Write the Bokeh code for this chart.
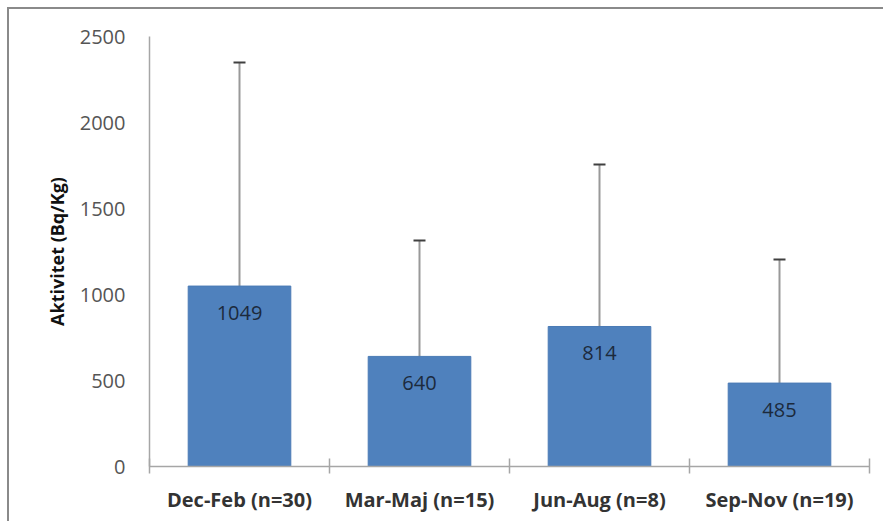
from bokeh.plotting import figure
from bokeh.models import Range1d, FixedTicker, Whisker, TeeHead, ColumnDataSource, LabelSet
from bokeh.core.properties import value
from bokeh.embed import file_html
from bokeh.resources import INLINE
import numpy as np

categories = ["Dec-Feb (n=30)", "Mar-Maj (n=15)", "Jun-Aug (n=8)", "Sep-Nov (n=19)"]
means = [1049, 640, 814, 485]
upper = [2349, 1314, 1756, 1203]
y_ticks = [0, 500, 1000, 1500, 2000, 2500]

pos = list(np.arange(len(categories)) + 0.5)
src = ColumnDataSource(dict(x=pos, top=means, upper=upper, lab=[str(v) for v in means]))

FONT = "Open Sans"

p = figure(width=883, height=521, output_backend="svg", toolbar_location=None,
           x_range=Range1d(0, len(categories)), y_range=Range1d(0, 2500),
           min_border_left=149, min_border_right=14, min_border_top=36, min_border_bottom=55,
           styles={"box-shadow": "inset 7px 7px 0 0 #ffffff, inset 9px 9px 0 0 #8a8a8a"})
p.outline_line_color = None
p.grid.visible = False
p.background_fill_color = "white"
p.border_fill_color = None

p.vbar(x="x", top="top", width=0.57, bottom=0, source=src,
       fill_color="#4F81BD", line_color="#4A7AB5", line_width=1)

w = Whisker(base="x", lower="top", upper="upper", source=src,
            line_color="#999999", line_width=2,
            upper_head=TeeHead(size=12, line_color="#404040", line_width=2),
            lower_head=None)
p.add_layout(w)

labels = LabelSet(x="x", y="top", text="lab", source=src, y_offset=-27,
                  text_align="center", text_baseline="middle",
                  text_font=value(FONT), text_font_size="20px", text_color="#1c2a3c")
p.add_layout(labels)

# y axis
ya = p.yaxis[0]
ya.ticker = FixedTicker(ticks=y_ticks)
ya.axis_line_color = "#a6a6a6"
ya.axis_line_width = 1.5
ya.major_tick_line_color = None
ya.major_tick_out = 0
ya.major_tick_in = 0
ya.minor_tick_line_color = None
ya.major_label_text_font = FONT
ya.major_label_text_font_size = "20px"
ya.major_label_text_color = "#555555"
ya.major_label_standoff = 24
ya.axis_label = "Aktivitet (Bq/Kg)"
ya.axis_label_text_font = FONT
ya.axis_label_text_font_size = "18px"
ya.axis_label_text_font_style = "bold"
ya.axis_label_text_color = "#111111"
ya.axis_label_standoff = 8

# x axis
xa = p.xaxis[0]
xa.ticker = FixedTicker(ticks=pos, minor_ticks=list(range(len(categories) + 1)))
xa.major_label_overrides = {float(x): c for x, c in zip(pos, categories)}
xa.axis_line_color = "#a6a6a6"
xa.axis_line_width = 1.5
xa.major_tick_line_color = None
xa.major_tick_out = 0
xa.major_tick_in = 0
xa.minor_tick_line_color = "#a6a6a6"
xa.minor_tick_line_width = 1.5
xa.minor_tick_in = 8
xa.minor_tick_out = 7
xa.major_label_text_font = FONT
xa.major_label_text_font_size = "20px"
xa.major_label_text_font_style = "bold"
xa.major_label_text_color = "#333333"
xa.major_label_standoff = 12

open("out.html", "w").write(file_html(p, INLINE))
